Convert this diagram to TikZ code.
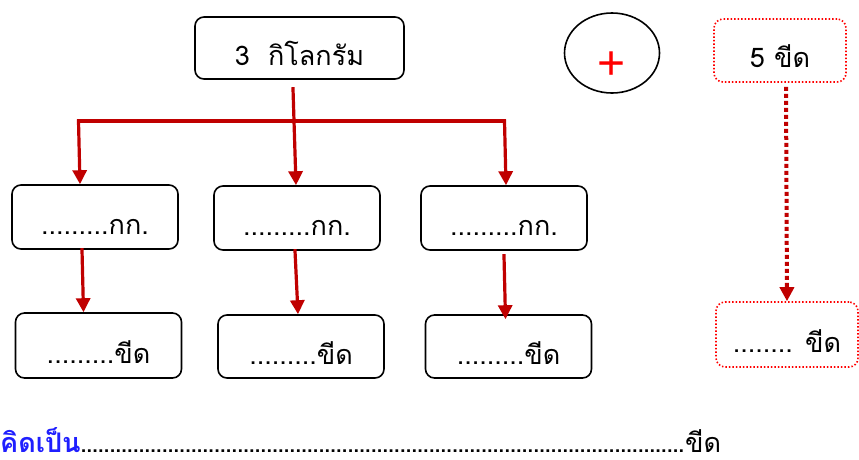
\documentclass[tikz,border=0pt]{standalone}
\usepackage{fontspec}
\newfontfamily\thaifont[Script=Thai]{Loma}
\newfontfamily\plusfont{Liberation Sans}
\usepackage{tikz}
\usetikzlibrary{shapes.geometric,arrows.meta,calc,positioning}
\usepackage{xcolor}
\definecolor{arrowred}{HTML}{C00000}
\definecolor{sumblue}{HTML}{1F1FFF}
\newcommand{\dotline}[1]{\makebox[#1]{\leaders\hbox to 5.8pt{\hss.\hss}\hfill}}

\begin{document}
\begin{tikzpicture}[x=1pt,y=-1pt,
	  every node/.style={align=center,font=\thaifont\fontsize{27}{30}\selectfont},
	  box/.style={draw,rounded corners=9pt,line width=1.6pt,inner sep=0pt,text depth=0pt,minimum width=166pt,minimum height=64pt},
	  hint/.style={draw=red,dash pattern=on 1.5pt off 2pt,rounded corners=9pt,line width=1.6pt,inner sep=0pt,text depth=0pt},
	  link/.style={draw=arrowred,line width=3.2pt,line cap=rect},
	  flow/.style={link,-{Triangle[length=14pt,width=14pt]}},
	  dotflow/.style={draw=arrowred,line width=4pt,dash pattern=on 4pt off 3pt,-{Triangle[length=14pt,width=14pt]}}]
	  \useasboundingbox (0,0) rectangle (859,459);

	  % top row
	  \node[box,minimum width=209pt,minimum height=62pt,text height=34pt] (kg) at (299.5,48) {3\ \ กิโลกรัม};
	  \node[ellipse,draw,line width=1.6pt,minimum width=95pt,minimum height=80pt,inner sep=0pt,text depth=0pt,text height=52pt,text=red,font=\plusfont\fontsize{48}{48}\selectfont] (plus) at (612,53) {+};
	  \node[hint,minimum width=132pt,minimum height=63pt,text height=33pt] (five) at (780,50.5) {5 ขีด};

	  % kilogram and khid boxes
	  \node[box,text height=34pt] (kgA) at (95,217) {.........กก.};
	  \node[box,text height=34pt] (kgB) at (297,218) {.........กก.};
	  \node[box,text height=34pt] (kgC) at (504,218) {.........กก.};
	  \node[box,minimum height=65pt,text height=35pt] (khidA) at (98.5,345.5) {.........ขีด};
	  \node[box,minimum height=63pt,text height=35pt] (khidB) at (301,346.5) {.........ขีด};
	  \node[box,minimum height=63pt,text height=35pt] (khidC) at (508.5,346.5) {.........ขีด};
	  \node[hint,minimum width=142pt,minimum height=65pt,text height=36pt] (answer) at (787,334.5) {........ ขีด};

	  % connectors
	  \coordinate (trunk) at ($(kg.south)+(-6.5,9)$);
	  \coordinate (forkL) at (78.5,121);
	  \coordinate (forkR) at (504.5,121);
	  \draw[link] (forkL) -- (forkR);
	  \draw[flow] (trunk) -- ($(kgB.north)+(-1,0)$);
	  \draw[flow] (forkL) -- ($(kgA.north)+(-15,0)$);
	  \draw[flow] (forkR) -- ($(kgC.north)+(2,0)$);
	  \draw[flow] ($(kgA.south)+(-13,0)$) -- ($(khidA.north)+(-15,0)$);
	  \draw[flow] ($(kgB.south)+(-2,0)$) -- ($(khidB.north)+(-3,0)$);
	  \draw[flow] ($(kgC.south)+(0,5)$) -- ($(khidC.north)+(-3,5)$);
	  \draw[dotflow] ($(five.south)+(6,4)$) -- (answer.north);

	  % answer line
	  \node[anchor=base west,inner sep=0pt] (total) at (0,452) {{\color{sumblue}\bfseries คิดเป็น}\dotline{604pt}ขีด};
\end{tikzpicture}
\end{document}
